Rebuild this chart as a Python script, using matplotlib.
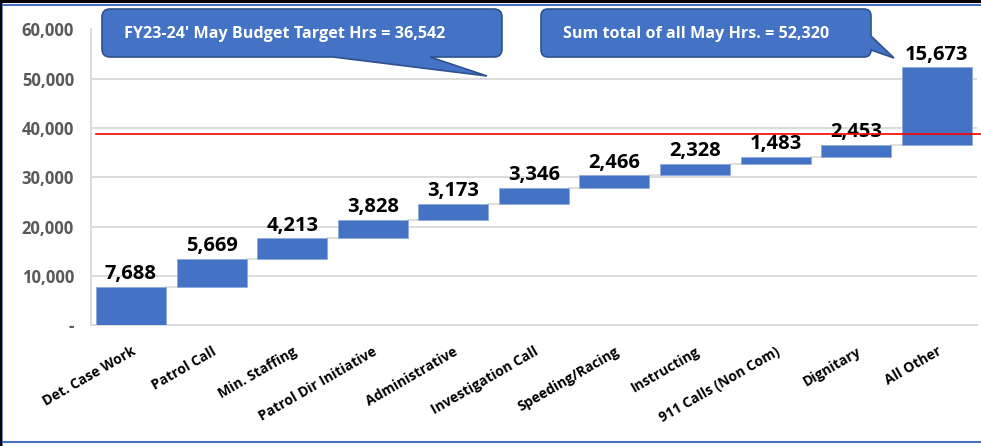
import matplotlib
matplotlib.use('Agg')
import matplotlib.pyplot as plt
from matplotlib.path import Path
from matplotlib.patches import PathPatch, Rectangle
from matplotlib.lines import Line2D
from matplotlib.ticker import FuncFormatter
import numpy as np

# ---------------- data ----------------
categories = ["Det. Case Work", "Patrol Call", "Min. Staffing", "Patrol Dir Initiative",
              "Administrative", "Investigation Call", "Speeding/Racing", "Instructing",
              "911 Calls (Non Com)", "Dignitary", "All Other"]
hours = [7688, 5669, 4213, 3828, 3173, 3346, 2466, 2328, 1483, 2453, 15673]
y_ticks = [0, 10000, 20000, 30000, 40000, 50000, 60000]
reference_line = 38750
budget_text = "FY23-24' May Budget Target Hrs = 36,542"
total_text = "Sum total of all May Hrs. = 52,320"

plt.rcParams['font.family'] = ['Open Sans', 'DejaVu Sans']

W, H = 981, 446
fig = plt.figure(figsize=(W / 100, H / 100), dpi=100)
fig.patch.set_facecolor('white')

ax = fig.add_axes([90.7 / W, 1 - 325 / H, (977 - 90.7) / W, (325 - 29.5) / H])

x = np.arange(len(categories))
vals = np.array(hours)
tops = np.cumsum(vals)
bottoms = tops - vals
bw = 0.87

ax.bar(x, vals, bottom=bottoms, width=bw, color='#4472C4', edgecolor='#8FAADC',
       linewidth=0.6, zorder=3)

for i in range(len(x) - 1):
    ax.plot([x[i] + bw / 2, x[i + 1] - bw / 2], [tops[i], tops[i]], color='#D9D9D9',
            lw=1.2, zorder=2)

for i, v in enumerate(hours):
    ax.annotate(f"{v:,}", (x[i], tops[i]), xytext=(0, 2), textcoords='offset points',
                ha='center', va='bottom', fontsize=14.5, fontweight='bold', color='black',
                zorder=5)

ax.plot([x[0] - bw / 2, x[-1] + 0.55], [reference_line, reference_line], color='#FF0000',
        lw=1.2, zorder=6, clip_on=False)

ax.set_xlim(-0.5, len(x) - 0.5)
ax.set_ylim(0, 60000)
ax.set_yticks(y_ticks)
ax.yaxis.set_major_formatter(FuncFormatter(lambda v, p: '-' if v == 0 else f"{v:,.0f}"))
ax.tick_params(axis='y', length=0, pad=12, labelcolor='#595959', labelsize=12)
for lbl in ax.get_yticklabels():
    lbl.set_fontweight('bold')

ax.set_xticks(x)
ax.set_xticklabels(categories, rotation=30, ha='right', rotation_mode='anchor',
                   fontsize=10, fontweight='bold')
ax.tick_params(axis='x', length=0, pad=14)

ax.yaxis.grid(True, color='#D9D9D9', lw=1.3)
ax.set_axisbelow(True)
for s in ['top', 'right']:
    ax.spines[s].set_visible(False)
for s in ['left', 'bottom']:
    ax.spines[s].set_color('#D9D9D9')
    ax.spines[s].set_linewidth(1.3)


# ---------------- callouts ----------------
def to_fig(px, py):
    return (px / W, 1 - py / H)


def callout(x0, y0, x1, y1, r, right_tail=None, bottom_tail=None):
    pts = []
    codes = []

    def add(p, c):
        pts.append(to_fig(*p))
        codes.append(c)

    add((x0 + r, y0), Path.MOVETO)
    add((x1 - r, y0), Path.LINETO)
    add((x1, y0), Path.CURVE3)
    add((x1, y0 + r), Path.CURVE3)
    if right_tail:
        for p in right_tail:
            add(p, Path.LINETO)
    add((x1, y1 - r), Path.LINETO)
    add((x1, y1), Path.CURVE3)
    add((x1 - r, y1), Path.CURVE3)
    if bottom_tail:
        for p in bottom_tail:
            add(p, Path.LINETO)
    add((x0 + r, y1), Path.LINETO)
    add((x0, y1), Path.CURVE3)
    add((x0, y1 - r), Path.CURVE3)
    add((x0, y0 + r), Path.LINETO)
    add((x0, y0), Path.CURVE3)
    add((x0 + r, y0), Path.CURVE3)
    add((x0 + r, y0), Path.CLOSEPOLY)
    patch = PathPatch(Path(pts, codes), facecolor='#4472C4', edgecolor='#2F528F',
                      lw=1.2, transform=fig.transFigure, zorder=10)
    fig.patches.append(patch)


callout(102, 9, 502, 57, 8, bottom_tail=[(430, 57), (487, 76), (333, 57)])
callout(541, 9, 871, 57, 7, right_tail=[(871, 36), (894, 58), (871, 50)])

fig.text(124 / W, 1 - 34 / H, budget_text, color='white', fontsize=11.6, fontweight='bold',
         va='center', ha='left', zorder=11)
fig.text(563 / W, 1 - 34 / H, total_text, color='white', fontsize=11.6, fontweight='bold',
         va='center', ha='left', zorder=11)

# ---------------- frame borders ----------------
fig.patches.append(Rectangle((0, 1 - 3 / H), 1, 3 / H, transform=fig.transFigure,
                             facecolor='black', edgecolor='none', zorder=12))
fig.patches.append(Rectangle((0, 0), 1.5 / W, 1, transform=fig.transFigure,
                             facecolor='black', edgecolor='none', zorder=12))
fig.lines.append(Line2D([0, 1], [1 - 4.5 / H, 1 - 4.5 / H], transform=fig.transFigure,
                        color='#4472C4', lw=1.5, zorder=12))
fig.lines.append(Line2D([2.2 / W, 2.2 / W], [0, 1 - 4 / H], transform=fig.transFigure,
                        color='#4472C4', lw=1.2, zorder=12))
fig.lines.append(Line2D([0, 1], [1 - 442 / H, 1 - 442 / H], transform=fig.transFigure,
                        color='#4472C4', lw=1.5, zorder=12))

fig.savefig('out.png', dpi=100)
